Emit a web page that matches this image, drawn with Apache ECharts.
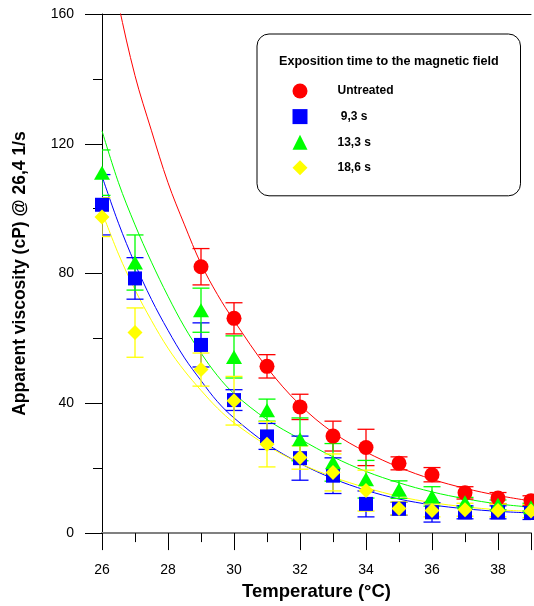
<!DOCTYPE html>
<html><head><meta charset="utf-8">
<script src="https://cdn.jsdelivr.net/npm/echarts@6/dist/echarts.min.js"></script>
<style>html,body{margin:0;padding:0;background:#fff}#c{width:534px;height:606px}</style>
</head><body><div id="c"></div>
<script>
const seriesNames = ['Untreated', ' 9,3 s', '13,3 s', '18,6 s'];
const seriesColors = ['#ff0000', '#0000ff', '#00ff00', '#ffff00'];
const seriesSymbols = ['circle', 'rect', 'triangle', 'diamond'];

const tempUntreated = [29, 30, 31, 32, 33, 34, 35, 36, 37, 38, 39];
const viscUntreated = [82.1, 66.2, 51.4, 38.9, 29.9, 26.4, 21.5, 18.0, 12.4, 10.8, 10.0];
const errUntreated  = [5.6, 4.8, 3.6, 3.9, 4.6, 5.6, 2.0, 2.2, 1.9, 1.7, 1.5];

const tempTreated = [26, 27, 29, 30, 31, 32, 33, 34, 35, 36, 37, 38, 39];
const visc93  = [101.2, 78.5, 58.0, 41.0, 29.8, 23.1, 17.7, 9.0, 7.5, 6.4, 6.4, 6.4, 6.2];
const err93   = [9.3, 6.4, 6.8, 3.2, 4.0, 6.8, 5.5, 4.0, 2.0, 3.0, 2.0, 2.0, 2.0];
const visc133 = [111.1, 83.4, 68.7, 54.3, 37.9, 28.9, 21.8, 16.6, 13.4, 11.3, 9.5, 8.7, 8.0];
const err133  = [7.0, 8.5, 6.8, 6.5, 3.4, 6.6, 5.8, 5.8, 2.7, 3.0, 1.5, 1.5, 1.2];
const visc186 = [97.4, 61.8, 50.4, 40.8, 27.4, 23.3, 18.7, 13.1, 7.6, 7.0, 7.2, 7.0, 6.8];
const err186  = [6.0, 7.6, 5.1, 7.5, 7.0, 3.6, 5.7, 6.3, 2.0, 2.0, 2.0, 2.0, 2.0];

// fitted curves
const fitTemp = [26, 26.5, 27, 27.5, 28, 28.5, 29, 29.5, 30, 31, 32, 33, 34, 35, 36, 37, 38, 39];
const fitUntreated = [188, 163, 141, 124, 108, 95, 83, 73.5, 65.5, 51, 39.5, 31, 25, 20.3, 16.6, 13.8, 11.6, 9.9];
const fit93  = [110, 95.5, 83, 72, 62.5, 54, 47, 40.5, 35.5, 27.5, 21.5, 16.8, 13.2, 10.5, 8.7, 7.5, 6.7, 6.2];
const fit133 = [124, 108, 95, 83.5, 73, 63.5, 55.5, 48.5, 43, 35, 29, 23.5, 19, 15.5, 12.7, 10.6, 9, 8];
const fit186 = [99, 86, 75, 65.5, 57, 50, 44, 38.5, 34, 27, 21.5, 17.3, 14, 11.3, 9.4, 8.1, 7.2, 6.7];

const xTickLabels = [26, 28, 30, 32, 34, 36, 38];
const yTickLabels = [0, 40, 80, 120, 160];

const FONT = '"Liberation Sans", Arial, sans-serif';

const groups = [
  {temps: tempUntreated, visc: viscUntreated, err: errUntreated, fit: fitUntreated},
  {temps: tempTreated, visc: visc93, err: err93, fit: fit93},
  {temps: tempTreated, visc: visc133, err: err133, fit: fit133},
  {temps: tempTreated, visc: visc186, err: err186, fit: fit186}
];
const symbolSizes = [15, 14, [16, 14], 15];

function errRender(color) {
  return function (params, api) {
    const x = api.value(0), lo = api.value(1), hi = api.value(2);
    const pLo = api.coord([x, lo]), pHi = api.coord([x, hi]);
    const w = 8.5;
    const style = {stroke: color, lineWidth: 1.3};
    return {type: 'group', children: [
      {type: 'line', shape: {x1: pLo[0], y1: pLo[1], x2: pHi[0], y2: pHi[1]}, style: style},
      {type: 'line', shape: {x1: pLo[0] - w, y1: pLo[1], x2: pLo[0] + w, y2: pLo[1]}, style: style},
      {type: 'line', shape: {x1: pHi[0] - w, y1: pHi[1], x2: pHi[0] + w, y2: pHi[1]}, style: style}
    ]};
  };
}

const series = [];
groups.forEach((g, i) => {
  series.push({
    name: 'fit' + i, type: 'line', smooth: 0.35, showSymbol: false, symbol: 'none',
    data: fitTemp.map((t, k) => [t, g.fit[k]]),
    lineStyle: {color: seriesColors[i], width: 1}, z: 1, silent: true, clip: true
  });
});
groups.forEach((g, i) => {
  series.push({
    name: 'err' + i, type: 'custom', renderItem: errRender(seriesColors[i]),
    data: g.temps.map((t, k) => [t, g.visc[k] - g.err[k], g.visc[k] + g.err[k]]),
    encode: {x: 0, y: [1, 2]}, z: 2 + i, silent: true, clip: true
  });
});
groups.forEach((g, i) => {
  series.push({
    name: seriesNames[i], type: 'scatter', symbol: seriesSymbols[i], symbolSize: symbolSizes[i],
    data: g.temps.map((t, k) => [t, g.visc[k]]),
    itemStyle: {color: seriesColors[i], opacity: 1}, z: 10 + i
  });
});

const chart = echarts.init(document.getElementById('c'));
chart.setOption({
  animation: false,
  backgroundColor: '#fff',
  textStyle: {fontFamily: FONT},
  grid: {left: 102, right: 0, top: 14, bottom: 70, containLabel: false},
  title: {
    text: 'Exposition time to the magnetic field', left: 279, top: 55, padding: 0,
    textStyle: {fontFamily: FONT, fontSize: 12.6, fontWeight: 'bold', color: '#000'}
  },
  legend: {
    data: seriesNames, orient: 'vertical', left: 257, top: 34,
    padding: [49.5, 127, 20.5, 35.5], itemWidth: 15, itemHeight: 15, itemGap: 10.6,
    borderColor: '#000', borderWidth: 1, borderRadius: 12, backgroundColor: '#fff',
    formatter: n => '{t|' + n + '}',
    textStyle: {
      fontFamily: FONT, fontSize: 12, fontWeight: 'bold', color: '#000',
      rich: {t: {fontFamily: FONT, fontSize: 12, fontWeight: 'bold', color: '#000', padding: [0, 0, 0, 25]}}
    }
  },
  xAxis: [
    {
      type: 'value', min: 26, max: 39, interval: 2, position: 'bottom',
      axisLine: {show: true, onZero: false, lineStyle: {color: '#808080', width: 2}},
      axisTick: {show: true, length: 17, lineStyle: {color: '#000', width: 1}},
      axisLabel: {margin: 30, fontSize: 14, color: '#000', fontFamily: FONT,
        formatter: v => xTickLabels.includes(v) ? String(v) : ''},
      splitLine: {show: false},
      name: 'Temperature (°C)', nameLocation: 'middle', nameGap: 46,
      nameTextStyle: {fontFamily: FONT, fontSize: 18.5, fontWeight: 'bold', color: '#000'}
    },
    {
      type: 'value', min: 26, max: 39, position: 'top',
      axisLine: {show: true, onZero: false, lineStyle: {color: '#000', width: 1}},
      axisTick: {show: false}, axisLabel: {show: false}, splitLine: {show: false}
    },
    {
      type: 'value', min: 26, max: 39, interval: 1, position: 'bottom',
      axisLine: {show: false, onZero: false},
      axisTick: {show: true, length: 9, lineStyle: {color: '#000', width: 1}},
      axisLabel: {show: false}, splitLine: {show: false}
    }
  ],
  yAxis: {
    type: 'value', min: 0, max: 160, interval: 40,
    axisLine: {show: true, onZero: false, lineStyle: {color: '#000', width: 1}},
    axisTick: {show: true, length: 17, lineStyle: {color: '#000', width: 1}},
    minorTick: {show: true, splitNumber: 2, length: 9, lineStyle: {color: '#000', width: 1}},
    axisLabel: {margin: 28, fontSize: 14, color: '#000', fontFamily: FONT,
      formatter: v => yTickLabels.includes(v) ? String(v) : ''},
    splitLine: {show: false}, minorSplitLine: {show: false},
    name: 'Apparent viscosity (cP) @ 26,4 1/s', nameLocation: 'middle', nameGap: 73,
    nameTextStyle: {fontFamily: FONT, fontSize: 17.5, fontWeight: 'bold', color: '#000'}
  },
  series: series
});
</script>
</body></html>
